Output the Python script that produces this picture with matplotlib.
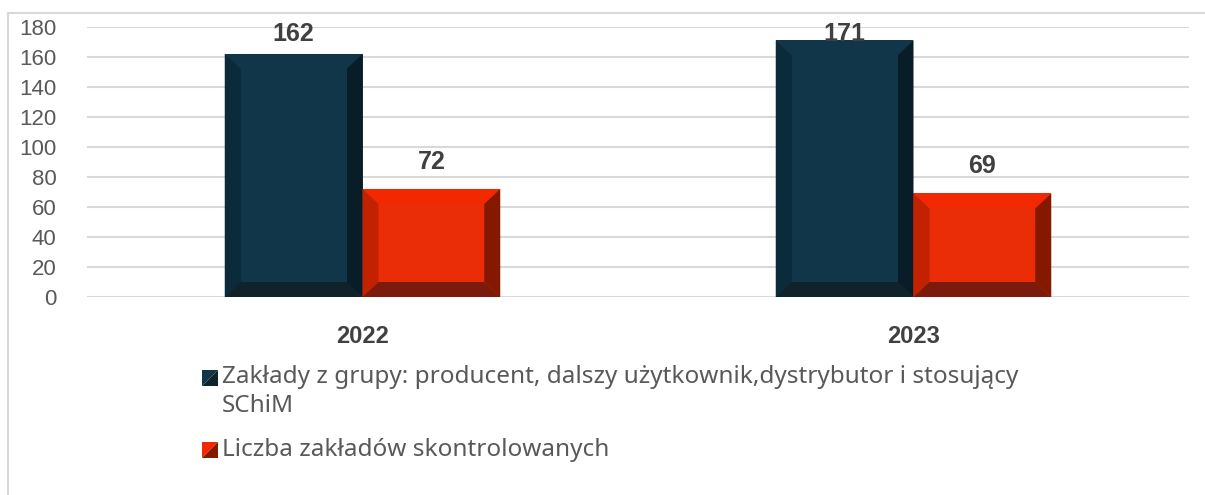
import matplotlib.pyplot as plt
from matplotlib.patches import Polygon
import numpy as np

years = ["2022", "2023"]
zaklady = [162, 171]
skontrolowane = [72, 69]
series_names = ["Zakłady z grupy: producent, dalszy użytkownik,dystrybutor i stosujący\nSChiM",
                "Liczba zakładów skontrolowanych"]

# face, top, left, right, bottom
blue = ["#11364A", "#11364A", "#0B2A3A", "#081D27", "#10232B"]
red = ["#EA2D06", "#F42800", "#C22200", "#851800", "#7B1B0C"]

W, H = 1205, 495
fig = plt.figure(figsize=(W / 100, H / 100), dpi=100)
ax = fig.add_axes([87 / W, (H - 297) / H, (1189 - 87) / W, 270 / H])
ax.set_xlim(-0.5, 1.5)
ax.set_ylim(0, 180)
ax.set_yticks(range(0, 181, 20))
ax.grid(axis="y", color="#D9D9D9", lw=1.5)
ax.set_axisbelow(True)
for s in ax.spines.values():
    s.set_visible(False)
ax.tick_params(axis="y", length=0, pad=22, labelsize=16, labelcolor="#595959")
ax.tick_params(axis="x", length=0, pad=20, labelsize=17, labelcolor="#404040")
ax.set_xticks(range(len(years)))
ax.set_xticklabels(years, fontweight="bold")
for t in ax.get_yticklabels() + ax.get_xticklabels():
    t.set_fontfamily("Liberation Sans")

x = np.arange(len(years))
bw = 0.25
inv = ax.transData.inverted()


def bevel_bar(x0, h, cols):
    x1 = x0 + bw
    p0 = ax.transData.transform((x0, 0))
    p1 = ax.transData.transform((x1, h))
    bx, by = 16, 15
    def d(px, py):
        return inv.transform((px, py))
    outer = [d(p0[0], p0[1]), d(p1[0], p0[1]), d(p1[0], p1[1]), d(p0[0], p1[1])]
    inner = [d(p0[0] + bx, p0[1] + by), d(p1[0] - bx, p0[1] + by),
             d(p1[0] - bx, p1[1] - by), d(p0[0] + bx, p1[1] - by)]
    ax.add_patch(Polygon(outer, closed=True, fc=cols[0], ec="none", zorder=2))
    ax.add_patch(Polygon([outer[3], outer[2], inner[2], inner[3]], fc=cols[1], ec="none", zorder=3))
    ax.add_patch(Polygon([outer[0], outer[3], inner[3], inner[0]], fc=cols[2], ec="none", zorder=3))
    ax.add_patch(Polygon([outer[1], outer[2], inner[2], inner[1]], fc=cols[3], ec="none", zorder=3))
    ax.add_patch(Polygon([outer[0], outer[1], inner[1], inner[0]], fc=cols[4], ec="none", zorder=3))
    ax.add_patch(Polygon(inner, fc=cols[0], ec="none", zorder=3))
    # value label
    top_px = H - p1[1]
    lab_px = max(top_px - 27, 34)
    ly = inv.transform((0, H - lab_px))[1]
    ax.text(x0 + bw / 2, ly, str(h), ha="center", va="center", fontsize=18,
            fontweight="bold", color="#404040", family="Liberation Sans",
            zorder=5, clip_on=False)


for i in range(len(years)):
    bevel_bar(x[i] - bw, zaklady[i], blue)
    bevel_bar(x[i], skontrolowane[i], red)

# frame (partially visible)
fig.add_artist(plt.Line2D([8 / W, 1], [1 - 13 / H] * 2, color="#D9D9D9", lw=1.5))
fig.add_artist(plt.Line2D([8 / W] * 2, [0, 1 - 13 / H], color="#D9D9D9", lw=1.5))

# legend
def fx(px):
    return px / W


def fy(py):
    return 1 - py / H


s = 16
for (my, cols, name, ty) in [(370, blue, series_names[0], 378), (442, red, series_names[1], 450)]:
    c1 = cols[1] if cols is red else cols[0]
    c2 = cols[3] if cols is red else cols[4]
    fig.add_artist(Polygon([(fx(202), fy(my)), (fx(202 + s), fy(my)), (fx(202), fy(my + s))],
                           transform=fig.transFigure, fc=c1, ec="none"))
    fig.add_artist(Polygon([(fx(202 + s), fy(my)), (fx(202 + s), fy(my + s)), (fx(202), fy(my + s))],
                           transform=fig.transFigure, fc=c2, ec="none"))
    if "\n" in name:
        fig.text(fx(222), fy(ty - 13), name, ha="left", va="top", fontsize=17.5, color="#595959",
                 family="Noto Sans", linespacing=1.28)
    else:
        fig.text(fx(222), fy(ty), name, ha="left", va="center", fontsize=17.5, color="#595959",
                 family="Noto Sans")

fig.savefig("out.png", dpi=100)
